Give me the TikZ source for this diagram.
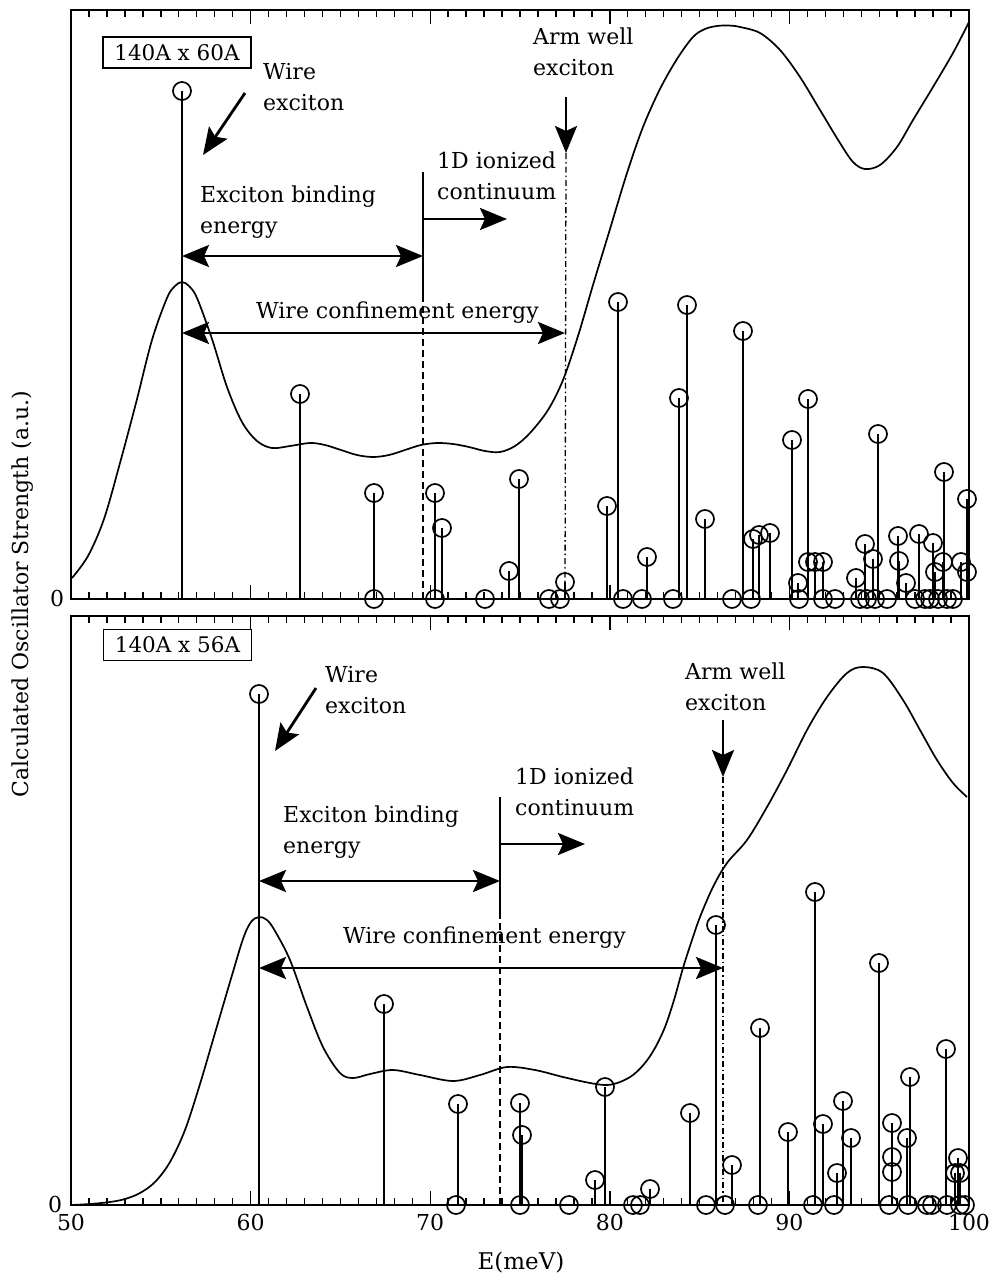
\documentclass[tikz,border=0pt]{standalone}
\usepackage{fontspec}
\setmainfont{DejaVu Serif}
\usetikzlibrary{arrows.meta}

\tikzset{
  frame/.style={line width=2pt},
  curve/.style={line width=1.7pt, line join=round},
  stem/.style={line width=1.7pt},
  osc/.style={line width=1.7pt},
  tick/.style={line width=1.4pt},
  headtip/.tip={Stealth[length=27pt,width=22pt,inset=5pt]},
  marker/.style={line width=2.8pt,-headtip},
  dmarker/.style={line width=2.8pt,headtip-headtip},
  guide/.style={line width=2.4pt},
  lbl/.style={font=\fontsize{22}{31}\selectfont, align=left, anchor=north west, inner sep=0pt},
  sizebox/.style={draw, line width=1.8pt, font=\fontsize{21.5}{24}\selectfont, inner sep=0pt, minimum width=148pt, minimum height=31pt},
  num/.style={font=\fontsize{22}{24}\selectfont, inner sep=0pt},
}

\begin{document}
\begin{tikzpicture}[x=1pt,y=-1pt]
\useasboundingbox (0,0) rectangle (997,1283);

% ---------- frames ----------
\draw[frame] (71,10) rectangle (969,599);
\draw[frame] (71,616) rectangle (969,1205);

% ---------- ticks: 1 meV minor, 10 meV major ----------
\foreach \e in {0,...,50} {
  \pgfmathsetmacro\xx{71+\e*17.96}
  \pgfmathsetmacro\tl{mod(\e,10)==0 ? 14 : 7}
  \draw[tick] (\xx,10) -- ++(0,\tl);
  \draw[tick] (\xx,599) -- ++(0,-\tl);
  \draw[tick] (\xx,616) -- ++(0,\tl);
  \draw[tick] (\xx,1205) -- ++(0,-\tl);
}

% ---------- axis labels ----------
\node[num] (zA) at (57,598) {0};
\node[num] (zB) at (55,1204) {0};
\node[num] (t50) at (71,1222) {50};
\node[num] (t60) at (250.6,1222) {60};
\node[num] (t70) at (430.2,1222) {70};
\node[num] (t80) at (609.8,1222) {80};
\node[num] (t90) at (789.4,1222) {90};
\node[num] (t100) at (969,1222) {100};
\node[num, font=\fontsize{23}{24}\selectfont] (xlab) at (521,1263) {E(meV)};
\node[num, rotate=90] (ylab) at (23,594) {Calculated Oscillator Strength (a.u.)};

% ---------- upper panel: broadened spectrum ----------
\draw[curve] plot[smooth, tension=0.55] coordinates {
 (72,578) (88,556) (104,519) (120,463) (136,403) (152,340) (167,298) (175,286)
 (182,282) (189,286) (197,298) (212,339) (227,387) (242,422) (257,441) (272,448)
 (290,446) (310,443) (325,445) (341,450) (357,455) (373,457) (389,455) (405,450)
 (421,445) (437,443) (453,444) (469,447) (485,451) (500,452) (515,446) (530,433)
 (548,410) (563,380) (578,336) (593,285) (610,229) (627,173) (643,127) (660,89)
 (677,59) (693,37) (705,29) (717,26) (729,25.5) (740,27) (760,33) (780,50)
 (800,77) (820,110) (840,143) (853,162) (865,169) (880,165) (897,147) (913,120)
 (933,87) (953,53) (969,22)};

% ---------- upper panel: oscillator strengths ----------
\draw[stem, line width=2pt] (182,599) -- (182,91);
\draw[osc] (182,91) circle[radius=9pt];
\foreach \x/\y in {300/394, 374/493, 435/493, 442/528, 509/571, 519/479, 565/582,
  607/506, 618/302, 647/557, 679/398, 687/305, 705/519, 743/331, 753/539, 759/535,
  770/533, 792/440, 798/583, 808/399, 808/562, 815/562, 823/562, 856/578, 865/544,
  873/559, 878/434, 898/536, 899/561, 906/583, 919/534, 933/543, 935/572, 943/562,
  944/472, 961/562, 967/499, 967/572} {
  \draw[stem] (\x,599) -- (\x,\y);
  \draw[osc] (\x,\y) circle[radius=9pt];
}
\foreach \x in {374, 435, 485, 549, 560, 623, 642, 673, 732, 751, 799, 823, 835,
  860, 867, 875, 887, 915, 925, 930, 938, 947, 953} {
  \draw[osc] (\x,599) circle[radius=9pt];
}

% ---------- upper panel: annotations ----------
\node[sizebox] (boxA) at (177,52.5) {140A x 60A};
\node[lbl] (wireA) at (263,63) {Wire\\exciton};
\coordinate (wireAs) at (245,93);
\coordinate (wireAt) at (203,155);
\draw[marker] (wireAs) -- (wireAt);

\node[lbl] (bindA) at (200,186) {Exciton binding\\energy};
\coordinate (bindAl) at (182,256);
\coordinate (bindAr) at (423,256);
\draw[dmarker] (bindAl) -- (bindAr);

\coordinate (contAtop) at (423,172);
\coordinate (contAmid) at (423,295);
\coordinate (contAbot) at (423,599);
\draw[guide] (contAtop) -- (contAmid);
\draw[line width=1.8pt, dashed, dash pattern=on 7pt off 4pt] (contAmid) -- (contAbot);
\node[lbl] (contA) at (437,152) {1D ionized\\continuum};
\coordinate (contAs) at (423,219);
\coordinate (contAt) at (507,219);
\draw[marker] (contAs) -- (contAt);

\node[lbl] (armA) at (533,28) {Arm well\\exciton};
\coordinate (armAs) at (566,97);
\coordinate (armAt) at (566,153);
\coordinate (armAbot) at (565,599);
\draw[marker] (armAs) -- (armAt);
\draw[line width=1.3pt, dash pattern=on 6pt off 3pt on 1.5pt off 3pt] (armAt) -- (armAbot);

\node[lbl] (confA) at (256,302) {Wire confinement energy};
\coordinate (confAl) at (182,333);
\coordinate (confAr) at (565,333);
\draw[dmarker] (confAl) -- (confAr);

% ---------- lower panel: broadened spectrum ----------
\draw[curve] plot[smooth, tension=0.55] coordinates {
 (71,1205) (90,1204) (110,1202) (125,1199) (140,1193) (155,1182) (170,1162)
 (185,1130) (200,1084) (215,1033) (230,982) (243,939) (251,922) (259,917)
 (267,920) (275,931) (290,960) (307,1007) (323,1047) (340,1073) (353,1078)
 (370,1074) (393,1070) (420,1075) (453,1081) (480,1075) (507,1067) (535,1070)
 (563,1077) (590,1083) (607,1085) (620,1082) (633,1075) (645,1063) (655,1048)
 (665,1027) (674,1000) (683,968) (692,940) (700,917) (713,887) (727,863)
 (747,840) (767,807) (787,770) (807,730) (827,697) (847,673) (863,667) (883,673)
 (903,700) (920,730) (937,760) (953,783) (967,797)};

% ---------- lower panel: oscillator strengths ----------
\draw[stem, line width=2.4pt] (259,1205) -- (259,694);
\draw[osc] (259,694) circle[radius=9pt];
\foreach \x/\y in {384/1004, 458/1104, 520/1103, 522/1135, 595/1180, 605/1087,
  650/1189, 690/1113, 716/925, 732/1165, 760/1028, 788/1132, 815/892, 823/1124,
  837/1173, 843/1101, 851/1138, 879/963, 892/1123, 892/1157, 892/1172, 907/1138,
  910/1077, 946/1049, 958/1158, 955/1173, 960/1173} {
  \draw[stem] (\x,1205) -- (\x,\y);
  \draw[osc] (\x,\y) circle[radius=9pt];
}
\foreach \x in {456, 520, 569, 633, 640, 706, 725, 758, 813, 834, 889, 908, 927,
  932, 947, 960, 965} {
  \draw[osc] (\x,1205) circle[radius=9pt];
}

% ---------- lower panel: annotations ----------
\node[sizebox] (boxB) at (177.5,645) {140A x 56A};
\node[lbl] (wireB) at (325,666) {Wire\\exciton};
\coordinate (wireBs) at (316,688);
\coordinate (wireBt) at (275,751);
\draw[marker] (wireBs) -- (wireBt);

\node[lbl] (bindB) at (283,806) {Exciton binding\\energy};
\coordinate (bindBl) at (259,881);
\coordinate (bindBr) at (500,881);
\draw[dmarker] (bindBl) -- (bindBr);

\coordinate (contBtop) at (500,797);
\coordinate (contBmid) at (500,912);
\coordinate (contBbot) at (500,1205);
\draw[guide] (contBtop) -- (contBmid);
\draw[line width=1.8pt, dashed, dash pattern=on 7pt off 4pt] (contBmid) -- (contBbot);
\node[lbl] (contB) at (515,768) {1D ionized\\continuum};
\coordinate (contBs) at (500,844);
\coordinate (contBt) at (585,844);
\draw[marker] (contBs) -- (contBt);

\node[lbl] (armB) at (685,663) {Arm well\\exciton};
\coordinate (armBs) at (723,720);
\coordinate (armBt) at (723,777);
\coordinate (armBbot) at (723,1205);
\draw[marker] (armBs) -- (armBt);
\draw[line width=1.3pt, dash pattern=on 6pt off 3pt on 1.5pt off 3pt] (armBt) -- (armBbot);

\node[lbl] (confB) at (343,927) {Wire confinement energy};
\coordinate (confBl) at (259,968);
\coordinate (confBr) at (723,968);
\draw[dmarker] (confBl) -- (confBr);
\end{tikzpicture}
\end{document}
